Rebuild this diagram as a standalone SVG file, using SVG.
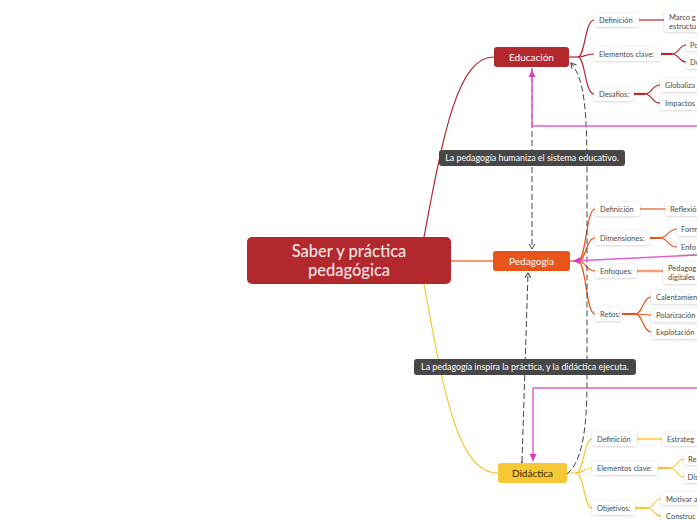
<svg xmlns="http://www.w3.org/2000/svg" width="697" height="520" viewBox="0 0 697 520">
<defs>
<style>
text{font-family:Lato,"Noto Sans","Liberation Sans",sans-serif}
.c{fill:#fff;filter:url(#sh)}
.ct{font-size:7.5px;fill:#4a4a4a}
.re{stroke:#b3282d;fill:none;stroke-width:1.2}
.or{stroke:#e8541a;fill:none;stroke-width:1.2}
.ye{stroke:#f6c836;fill:none;stroke-width:1.2}
.dash{stroke:#444;fill:none;stroke-width:1;stroke-dasharray:6 3}
.pk{stroke:#e060d0;fill:none;stroke-width:1.5}
.lbl{fill:#474747}
.lt{font-size:8.9px;fill:#fff}
</style>
<filter id="sh" x="-20%" y="-30%" width="140%" height="160%">
<feDropShadow dx="0" dy="0.6" stdDeviation="0.8" flood-color="#000" flood-opacity="0.2"/>
</filter>
<marker id="da" markerWidth="8" markerHeight="8" refX="6" refY="4" orient="auto" markerUnits="userSpaceOnUse">
<path d="M1,1 L6,4 L1,7" fill="none" stroke="#444" stroke-width="1"/>
</marker>
<marker id="pa" markerWidth="8" markerHeight="8" refX="7" refY="4" orient="auto" markerUnits="userSpaceOnUse">
<path d="M0,0.5 L7,4 L0,7.5 Z" fill="#d63cc8"/>
</marker>
</defs>

<g id="connectors">
<path class="re" d="M424,237 C 444,130 458,57 494,57"/>
<path d="M451,261 L493,261" stroke="#f29a6e" stroke-width="1.8" fill="none"/>
<path class="ye" d="M424,284 C 444,395 458,473 498,473"/>

<!-- Educación branches -->
<path class="re" d="M569,57 L578,57"/>
<path class="re" d="M578,57 C 585,57 585,20 594,20"/>
<path class="re" d="M578,57 C 585,57 585,54 594,54"/>
<path class="re" d="M578,57 C 585,57 585,94 594,94"/>
<path class="re" d="M639,20 L664,20"/>
<path d="M661,54 L672,54" stroke="#b3282d" stroke-width="2.2"/>
<path class="re" d="M672,54 C 679,54 679,45 686,45"/>
<path class="re" d="M672,54 C 679,54 679,62 686,62"/>
<path d="M634,94 L645,94" stroke="#b3282d" stroke-width="2.2"/>
<path class="re" d="M645,94 C 652,94 652,85 660,85"/>
<path class="re" d="M645,94 C 652,94 652,103 660,103"/>

<!-- Pedagogía branches -->
<path class="or" d="M570,261 L578,261"/>
<path class="or" d="M578,261 C 586,261 586,209 595,209"/>
<path class="or" d="M578,261 C 586,261 586,238 595,238"/>
<path class="or" d="M578,261 C 586,261 586,271 595,271"/>
<path class="or" d="M578,261 C 586,261 586,314 595,314"/>
<path class="or" d="M640,209 L665,209"/>
<path d="M650,238 L660,238" stroke="#e8541a" stroke-width="2"/>
<path class="or" d="M660,238 C 668,238 668,229 677,229"/>
<path class="or" d="M660,238 C 668,238 668,247 677,247"/>
<path d="M637,271 L663,271" stroke="#f5a07a" stroke-width="2.5"/>
<path d="M622,314 L635,314" stroke="#e8541a" stroke-width="2"/>
<path class="or" d="M635,314 C 643,314 643,297 651,297"/>
<path class="or" d="M635,314 L651,315"/>
<path class="or" d="M635,314 C 643,314 643,332 651,332"/>

<!-- Didáctica branches -->
<path class="ye" d="M567,473 L576,473"/>
<path class="ye" d="M576,473 C 584,473 584,439 592,439"/>
<path class="ye" d="M576,473 C 584,473 584,468 592,468"/>
<path class="ye" d="M576,473 C 584,473 584,508 592,508"/>
<path d="M637,439 L662,439" stroke="#f8d767" stroke-width="2.2"/>
<path d="M658,468 L670,468" stroke="#f6c836" stroke-width="2.2"/>
<path class="ye" d="M670,468 C 677,468 677,459 684,459"/>
<path class="ye" d="M670,468 C 677,468 677,477 684,477"/>
<path d="M635,508 L647,508" stroke="#f6c836" stroke-width="2.2"/>
<path class="ye" d="M647,508 C 654,508 654,499 661,499"/>
<path class="ye" d="M647,508 C 654,508 654,516 661,516"/>

<!-- dashed relations -->
<path class="dash" d="M532,68 L532,249" marker-end="url(#da)"/>
<path class="dash" d="M522,462 L528,273" marker-start="url(#da)" marker-end="url(#da)"/>
<path class="dash" d="M567,474 C 582,462 587,430 587,380 L587,180 C 587,110 585,80 571,63" marker-end="url(#da)"/>

<!-- pink relations -->
<path class="pk" d="M697,126 L532,126 L532,70" marker-end="url(#pa)" stroke="#ec84da"/>
<path class="pk" d="M697,255 L573,261" marker-end="url(#pa)" stroke="#dd3fcf"/>
<path class="pk" d="M697,388 L533,388 L533,461" marker-end="url(#pa)" stroke="#ec84da"/>

<g id="label1">
<rect class="lbl" x="439" y="150" width="186" height="16" rx="3"/>
<text class="lt" x="532" y="161.3" text-anchor="middle">La pedagogía humaniza el sistema educativo.</text>
</g>
<g id="label2">
<rect class="lbl" x="414" y="359" width="222" height="16" rx="3"/>
<text class="lt" x="525" y="370.3" text-anchor="middle">La pedagogía inspira la práctica, y la didáctica ejecuta.</text>
</g>
</g>

<g id="central">
<rect x="247" y="237" width="204" height="47" rx="5" fill="#b3282d"/>
<text x="349" y="257" text-anchor="middle" font-size="16.5" fill="#f6e6e6" font-weight="500">Saber y práctica</text>
<text x="349" y="276" text-anchor="middle" font-size="16.5" fill="#f6e6e6" font-weight="500">pedagógica</text>
</g>

<g id="educacion">
<rect x="494" y="47" width="75" height="20" rx="3" fill="#b3282d"/>
<text x="531.5" y="61" text-anchor="middle" font-size="10" fill="#fff">Educación</text>
</g>
<g id="pedagogia">
<rect x="493" y="251" width="77" height="20" rx="3" fill="#e8541a"/>
<text x="531.5" y="265" text-anchor="middle" font-size="10" fill="#fff">Pedagogía</text>
</g>
<g id="didactica">
<rect x="498" y="463" width="69" height="20" rx="3" fill="#f6c836"/>
<text x="532.5" y="477" text-anchor="middle" font-size="10" fill="#3a2a05">Didáctica</text>
</g>

<!-- Educación children -->
<g id="edu-def"><rect class="c" x="594" y="13" width="45" height="14" rx="3"/><text class="ct" x="599" y="23">Definición</text></g>
<g id="edu-elem"><rect class="c" x="594" y="47" width="67" height="14" rx="3"/><text class="ct" x="599" y="57">Elementos clave:</text></g>
<g id="edu-des"><rect class="c" x="594" y="87" width="40" height="14" rx="3"/><text class="ct" x="599" y="97">Desafíos:</text></g>
<g id="edu-def-1"><rect class="c" x="664" y="11" width="40" height="21" rx="3"/><text class="ct" x="669" y="20">Marco g</text><text class="ct" x="669" y="29">estructu</text></g>
<g id="edu-elem-1"><rect class="c" x="686" y="38" width="20" height="13" rx="3"/><text class="ct" x="690" y="47.5">Po</text></g>
<g id="edu-elem-2"><rect class="c" x="686" y="55" width="20" height="14" rx="3"/><text class="ct" x="690" y="65">De</text></g>
<g id="edu-des-1"><rect class="c" x="660" y="78" width="45" height="14" rx="3"/><text class="ct" x="665" y="88">Globaliza</text></g>
<g id="edu-des-2"><rect class="c" x="660" y="96" width="45" height="14" rx="3"/><text class="ct" x="665" y="106">Impactos</text></g>

<!-- Pedagogía children -->
<g id="ped-def"><rect class="c" x="595" y="202" width="45" height="14" rx="3"/><text class="ct" x="600" y="212">Definición</text></g>
<g id="ped-dim"><rect class="c" x="595" y="231" width="55" height="14" rx="3"/><text class="ct" x="600" y="241">Dimensiones:</text></g>
<g id="ped-enf"><rect class="c" x="595" y="264" width="42" height="14" rx="3"/><text class="ct" x="600" y="274">Enfoques:</text></g>
<g id="ped-ret"><rect class="c" x="595" y="307" width="27" height="14" rx="3"/><text class="ct" x="600" y="317">Retos:</text></g>
<g id="ped-def-1"><rect class="c" x="665" y="202" width="40" height="14" rx="3"/><text class="ct" x="670" y="212">Reflexió</text></g>
<g id="ped-dim-1"><rect class="c" x="677" y="222" width="30" height="14" rx="3"/><text class="ct" x="681" y="232">Form</text></g>
<g id="ped-dim-2"><rect class="c" x="677" y="240" width="30" height="14" rx="3"/><text class="ct" x="681" y="250">Enfo</text></g>
<g id="ped-enf-1"><rect class="c" x="663" y="262" width="40" height="22" rx="3"/><text class="ct" x="668" y="271">Pedagog</text><text class="ct" x="668" y="280">digitales</text></g>
<g id="ped-ret-1"><rect class="c" x="651" y="290" width="52" height="14" rx="3"/><text class="ct" x="656" y="300">Calentamien</text></g>
<g id="ped-ret-2"><rect class="c" x="651" y="308" width="52" height="14" rx="3"/><text class="ct" x="656" y="318">Polarización</text></g>
<g id="ped-ret-3"><rect class="c" x="651" y="325" width="52" height="14" rx="3"/><text class="ct" x="656" y="335">Explotación</text></g>

<!-- Didáctica children -->
<g id="did-def"><rect class="c" x="592" y="432" width="45" height="14" rx="3"/><text class="ct" x="597" y="442">Definición</text></g>
<g id="did-elem"><rect class="c" x="592" y="461" width="66" height="14" rx="3"/><text class="ct" x="597" y="471">Elementos clave:</text></g>
<g id="did-obj"><rect class="c" x="592" y="501" width="43" height="14" rx="3"/><text class="ct" x="597" y="511">Objetivos:</text></g>
<g id="did-def-1"><rect class="c" x="662" y="432" width="42" height="14" rx="3"/><text class="ct" x="667" y="442">Estrateg</text></g>
<g id="did-elem-1"><rect class="c" x="684" y="452" width="20" height="13" rx="3"/><text class="ct" x="688" y="461.5">Re</text></g>
<g id="did-elem-2"><rect class="c" x="684" y="470" width="20" height="13" rx="3"/><text class="ct" x="687.5" y="479.5">Dis</text></g>
<g id="did-obj-1"><rect class="c" x="661" y="492" width="45" height="13" rx="3"/><text class="ct" x="666" y="501.5">Motivar a</text></g>
<g id="did-obj-2"><rect class="c" x="661" y="509" width="45" height="14" rx="3"/><text class="ct" x="666" y="519">Construc</text></g>
</svg>
